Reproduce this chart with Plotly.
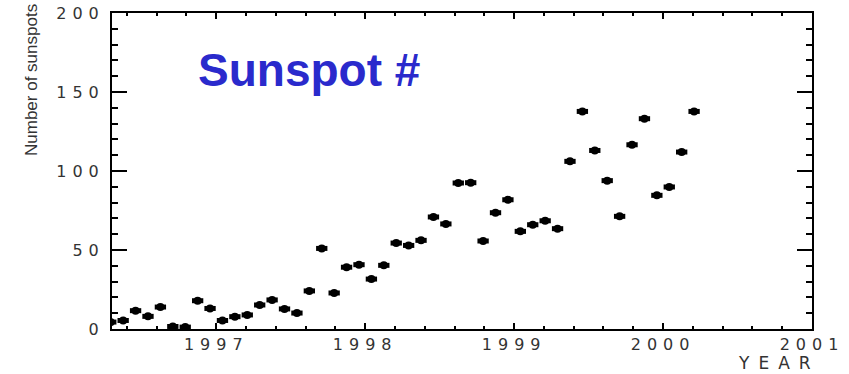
import plotly.graph_objects as go

# Monthly sunspot numbers (mid-month positions)
years = [1996]*9 + [1997]*12 + [1998]*12 + [1999]*12 + [2000]*3
months = list(range(4, 13)) + list(range(1, 13))*3 + [1, 2, 3]
sunspots = [4.4, 5.4, 11.6, 8.0, 13.9, 1.6, 1.2, 17.9, 13.0,
            5.4, 7.8, 8.9, 15.2, 18.4, 12.7, 10.1, 24.1, 51.0, 22.8, 39.1, 40.7,
            31.6, 40.3, 54.4, 52.9, 56.1, 70.9, 66.5, 92.4, 92.6, 55.7, 73.6, 81.8,
            61.8, 66.0, 68.5, 63.5, 106.1, 137.7, 113.0, 93.9, 71.3, 116.6, 133.1, 84.6,
            89.9, 112.0, 137.7]
x_vals = [y + (m - 0.5) / 12 for y, m in zip(years, months)]

x_ticks = [1997, 1998, 1999, 2000, 2001]
y_ticks = [0, 50, 100, 150, 200]

TICKFONT = dict(family="DejaVu Sans, Verdana, sans-serif", size=16, color="#333333")
SP = "letter-spacing:6px"

fig = go.Figure()
fig.add_trace(go.Scatter(
    x=x_vals, y=sunspots, mode="markers",
    marker=dict(symbol="circle", size=8, color="black"),
    error_x=dict(type="constant", value=0.038, thickness=5, width=0, color="black"),
    cliponaxis=True, showlegend=False,
))

fig.update_layout(
    width=849, height=374,
    margin=dict(l=112, r=37, t=13, b=45, autoexpand=False),
    paper_bgcolor="white", plot_bgcolor="white",
    xaxis=dict(
        range=[1996.3, 2001], showgrid=False, zeroline=False, automargin=False,
        showline=True, linecolor="black", linewidth=2, mirror="ticks",
        ticks="inside", ticklen=6, tickwidth=2, tickcolor="black",
        tickvals=x_ticks,
        ticktext=[f'<span style="{SP}">{t}</span>' for t in x_ticks],
        tickfont=TICKFONT,
        minor=dict(dtick=0.2, tick0=1997, ticks="inside", ticklen=3, tickwidth=2, tickcolor="black"),
    ),
    yaxis=dict(
        range=[0, 200], showgrid=False, zeroline=False, automargin=False,
        showline=True, linecolor="black", linewidth=2, mirror="ticks",
        ticks="inside", ticklen=15, tickwidth=2, tickcolor="black",
        tickvals=y_ticks,
        ticktext=[f'<span style="{SP}">{t}</span>' for t in y_ticks],
        tickfont=TICKFONT, ticklabelstandoff=2,
        minor=dict(dtick=10, ticks="inside", ticklen=6, tickwidth=2, tickcolor="black"),
    ),
)

px0, px1, py0, py1 = 112, 812, 13, 329
def px(x):
    return (x - px0) / (px1 - px0)
def py(y):
    return (py1 - y) / (py1 - py0)

fig.add_annotation(
    text="Sunspot #", xref="paper", yref="paper", x=px(196), y=py(70),
    xanchor="left", yanchor="middle", showarrow=False,
    font=dict(family="Liberation Sans, Arial, sans-serif", size=46, color="#2a2acc", weight="bold"),
)
fig.add_annotation(
    text="Number of sunspots", xref="paper", yref="paper", x=px(31), y=py(80),
    xanchor="center", yanchor="middle", showarrow=False, textangle=-90,
    font=dict(family="Liberation Sans Narrow, Arial Narrow, sans-serif", size=17, color="#333333"),
)
fig.add_annotation(
    text=f'<span style="letter-spacing:9px">YEAR</span>', xref="paper", yref="paper", x=px(821), y=py(374),
    xanchor="right", yanchor="bottom", showarrow=False, borderpad=0,
    font=dict(family="DejaVu Sans, Verdana, sans-serif", size=17, color="#333333"),
)

fig.write_html("out.html")
